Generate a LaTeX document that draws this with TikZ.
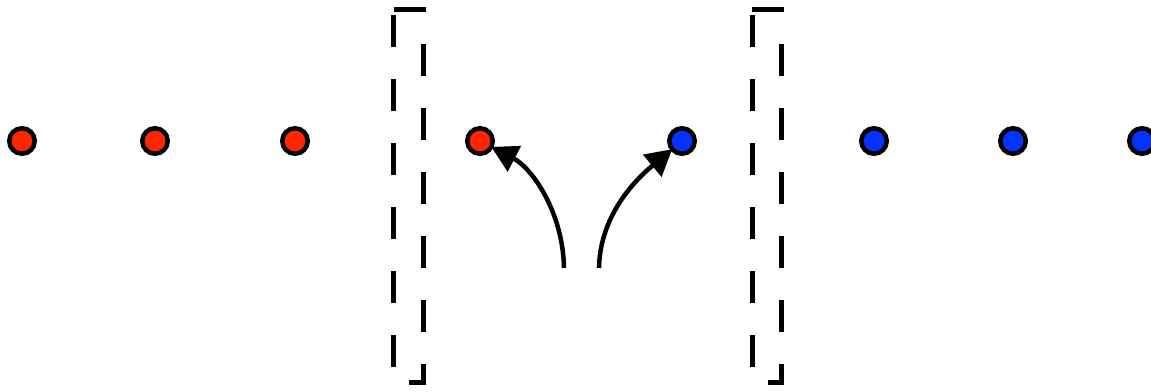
\documentclass[tikz,border=0pt]{standalone}
\usetikzlibrary{arrows.meta}
\definecolor{dotred}{RGB}{255,38,0}
\definecolor{dotblue}{RGB}{4,51,255}
\begin{document}
\begin{tikzpicture}[x=1pt,y=-1pt,
  dot/.style={circle,draw=black,line width=4.5pt,minimum size=25.5pt,inner sep=0pt,outer sep=0pt},
  reddot/.style={dot,fill=dotred},
  bluedot/.style={dot,fill=dotblue},
  wall/.style={line width=5pt,dash pattern=on 32pt off 32pt},
  link/.style={line width=4.5pt,-{Triangle[length=26pt,width=28pt]}}]
\useasboundingbox (0,0) rectangle (1151,391);

% chain of sites
\node[reddot]  (r1) at (22,141) {};
\node[reddot]  (r2) at (155,141) {};
\node[reddot]  (r3) at (295,141) {};
\node[reddot]  (r4) at (480,141) {};
\node[bluedot] (b1) at (682,141) {};
\node[bluedot] (b2) at (874,141) {};
\node[bluedot] (b3) at (1013,141) {};
\node[bluedot] (b4) at (1142,141) {};

% dashed barriers
\foreach \dx in {0,358.5}{
  \begin{scope}[xshift=\dx]
    \draw[wall] (409,382) -- (423,382) -- (423,9.5) -- (391.5,9.5);
    \draw[wall] (393.5,15) -- (393.5,382);
  \end{scope}
}

% hopping arrows
\coordinate (s1) at (564,268);
\coordinate (s2) at (599,268);
\draw[link] (s1) .. controls (563,212) and (532,168) .. (r4);
\draw[link] (s2) .. controls (600,212) and (640,176) .. (b1);
\end{tikzpicture}
\end{document}
